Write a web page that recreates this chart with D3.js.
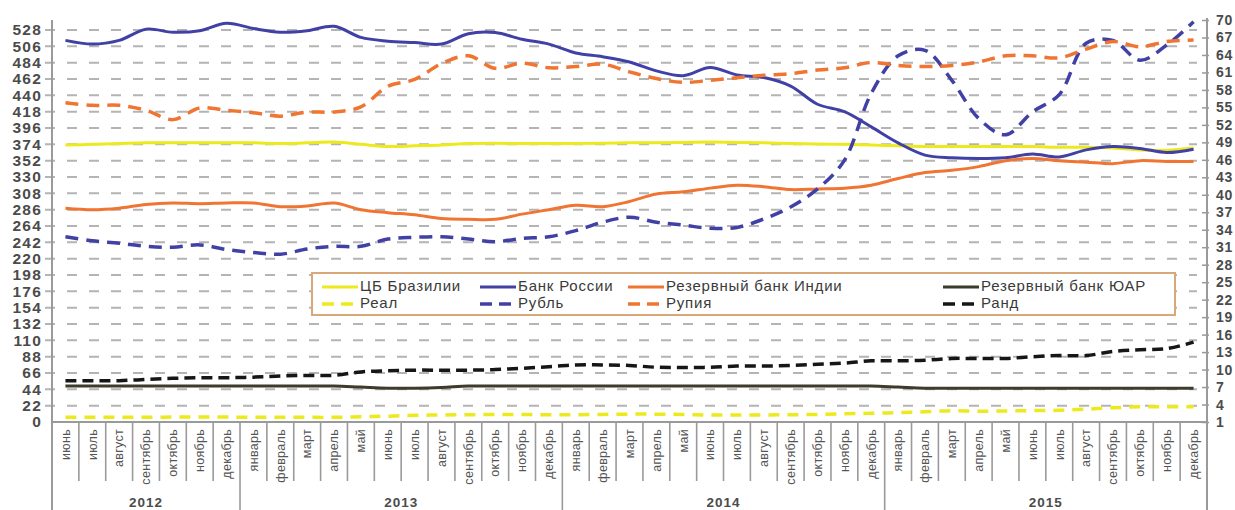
<!DOCTYPE html>
<html>
<head>
<meta charset="utf-8">
<script src="https://cdn.jsdelivr.net/npm/d3@7"></script>
<style>
  html, body { margin: 0; padding: 0; background: #fff; }
  svg { display: block; font-family: "Liberation Sans", Arial, sans-serif; }
</style>
</head>
<body>
<svg id="chart" width="1235" height="510"></svg>
<script>
// Months from June 2012 to December 2015
const monthLabels = [
  "июнь","июль","август","сентябрь","октябрь","ноябрь","декабрь",
  "январь","февраль","март","апрель","май","июнь","июль","август","сентябрь","октябрь","ноябрь","декабрь",
  "январь","февраль","март","апрель","май","июнь","июль","август","сентябрь","октябрь","ноябрь","декабрь",
  "январь","февраль","март","апрель","май","июнь","июль","август","сентябрь","октябрь","ноябрь","декабрь"
];
const yearLabels = ["2012", "2013", "2014", "2015"];
const monthsPerYear = [7, 12, 12, 12];

const leftTicks = [0, 22, 44, 66, 88, 110, 132, 154, 176, 198, 220, 242, 264, 286, 308, 330, 352, 374, 396, 418, 440, 462, 484, 506, 528];
const rightTicks = [1, 4, 7, 10, 13, 16, 19, 22, 25, 28, 31, 34, 37, 40, 43, 46, 49, 52, 55, 58, 61, 64, 67, 70];

const seriesNames = ["ЦБ Бразилии", "Банк России", "Резервный банк Индии", "Резервный банк ЮАР", "Реал", "Рубль", "Рупия", "Ранд"];

// Reserves, left axis
const brazilBank = [373, 374, 375, 376, 376, 376, 376, 376, 375, 376, 377, 374, 371, 372, 373, 375, 375.5, 375, 375, 375, 375.5, 376, 376, 376.5, 377, 376.5, 376, 375, 374.5, 374, 373, 372, 371, 371, 371, 371, 371, 370, 370, 369, 366.5, 366, 369];
const russiaBank = [514, 509, 514, 529, 525, 527, 537, 530, 525, 527, 533, 518, 513, 511, 509, 523, 524.5, 515.5, 509, 497, 492, 485, 473, 466.5, 477.5, 467.5, 464, 452.5, 428, 418, 397.5, 376, 359.5, 356, 355, 356, 361, 357, 366.5, 371, 368.5, 363, 367.5];
const indiaBank = [288, 286, 288, 293, 295, 294, 295, 295, 290, 291, 295, 286, 282, 279, 274, 273, 273, 280, 286, 292, 290, 297, 307, 310, 315, 319, 317, 313, 314, 315, 319, 328, 336, 339, 344, 352, 355, 352, 350, 348, 352, 351, 351];
const safricaBank = [48.5, 48.5, 48.5, 48.5, 48.5, 48.5, 48.5, 48.5, 48.5, 48.5, 48.5, 47, 45.5, 45.5, 46.5, 48.5, 48.5, 48.5, 48.5, 48.5, 48.5, 48.5, 48.5, 48.5, 48.5, 48.5, 48.5, 48.5, 48.5, 48.5, 48.5, 47, 45.5, 45.5, 45.5, 45.5, 45.5, 45.5, 45.5, 45.5, 45.5, 45.5, 45.5];

// Exchange rates to USD, right axis
const real = [1.8, 1.8, 1.8, 1.8, 1.85, 1.85, 1.85, 1.8, 1.8, 1.8, 1.8, 1.9, 2.0, 2.15, 2.2, 2.25, 2.3, 2.3, 2.25, 2.25, 2.3, 2.35, 2.35, 2.3, 2.2, 2.2, 2.2, 2.25, 2.3, 2.4, 2.5, 2.6, 2.75, 2.95, 2.85, 2.9, 2.95, 3.0, 3.2, 3.45, 3.6, 3.6, 3.6];
const ruble = [32.8, 32.1, 31.7, 31.15, 31.0, 31.4, 30.6, 30.1, 29.8, 30.7, 31.15, 31.15, 32.4, 32.7, 32.8, 32.4, 31.95, 32.5, 32.8, 33.85, 35.3, 36.15, 35.3, 34.8, 34.25, 34.4, 35.85, 37.9, 41, 45.9, 57.4, 63.85, 64.8, 59.65, 53.1, 50.3, 54.2, 57.2, 66, 66.5, 63.1, 65.7, 69.7];
const rupee = [55.8, 55.35, 55.35, 54.5, 52.9, 54.9, 54.5, 54.1, 53.5, 54.2, 54.2, 55.1, 58.6, 59.8, 62.5, 63.85, 61.7, 62.6, 61.8, 62, 62.4, 61.1, 59.95, 59.3, 59.65, 60.1, 60.5, 60.8, 61.4, 61.8, 62.7, 62.2, 62, 62.2, 62.8, 63.85, 63.85, 63.5, 65, 66.3, 65.4, 66.3, 66.55];
const rand = [8.1, 8.1, 8.1, 8.3, 8.5, 8.6, 8.6, 8.7, 8.9, 9.0, 9.0, 9.6, 9.8, 9.9, 9.9, 9.9, 10.0, 10.2, 10.5, 10.8, 10.8, 10.7, 10.4, 10.35, 10.4, 10.6, 10.6, 10.7, 10.9, 11.1, 11.5, 11.5, 11.6, 11.9, 11.9, 11.9, 12.2, 12.4, 12.4, 13.1, 13.4, 13.6, 14.7];

const svg = d3.select("#chart");
svg.append("rect").attr("width", 1235).attr("height", 510).attr("fill", "#fff");

const plotLeft = 52, plotRight = 1207, plotTop = 20, plotBottom = 422;

const x = d3.scaleBand().domain(d3.range(monthLabels.length)).range([plotLeft, plotRight]).padding(0);
const cx = i => x(i) + x.bandwidth() / 2;
const yL = d3.scaleLinear().domain([0, 528]).range([plotBottom, 30]);
const yR = d3.scaleLinear().domain([1, 70]).range([plotBottom, plotTop]);

const gridColor = "#b4b4b4";
const axisColor = "#9a9a9a";
const labelColor = "#4b4b4b";

// Horizontal dashed gridlines at the left-axis ticks
svg.append("g").selectAll("line").data(leftTicks.filter(t => t > 0)).join("line")
  .attr("x1", plotLeft - 7).attr("x2", plotRight - 10)
  .attr("y1", d => yL(d)).attr("y2", d => yL(d))
  .attr("stroke", gridColor).attr("stroke-width", 2)
  .attr("stroke-dasharray", "10,12");

// Left axis
const gLeft = svg.append("g").attr("transform", `translate(${plotLeft},0)`)
  .call(d3.axisLeft(yL).tickValues(leftTicks).tickSize(0).tickPadding(10));
gLeft.select(".domain").remove();
gLeft.selectAll("text")
  .attr("fill", labelColor).attr("font-size", 15.5).attr("font-weight", "bold")
  .attr("letter-spacing", "1.2px").attr("font-family", "Liberation Sans, Arial, sans-serif");
svg.append("line").attr("x1", plotLeft).attr("x2", plotLeft).attr("y1", plotTop).attr("y2", 510)
  .attr("stroke", axisColor).attr("stroke-width", 2);

// Right axis
const gRight = svg.append("g").attr("transform", `translate(${plotRight},0)`)
  .call(d3.axisRight(yR).tickValues(rightTicks).tickSize(3).tickPadding(6));
gRight.select(".domain").remove();
gRight.selectAll(".tick line").attr("x1", -5).attr("x2", 2).attr("stroke", axisColor).attr("stroke-width", 1.5);
gRight.selectAll("text")
  .attr("fill", labelColor).attr("font-size", 14).attr("font-weight", "bold")
  .attr("letter-spacing", "0.8px").attr("font-family", "Liberation Sans, Arial, sans-serif");
svg.append("line").attr("x1", plotRight).attr("x2", plotRight).attr("y1", plotTop - 2).attr("y2", 510)
  .attr("stroke", axisColor).attr("stroke-width", 2);

// Bottom axis with month and year separators
svg.append("line").attr("x1", plotLeft).attr("x2", plotRight).attr("y1", plotBottom).attr("y2", plotBottom)
  .attr("stroke", axisColor).attr("stroke-width", 2);
const yearStarts = [];
monthsPerYear.reduce((acc, n) => { yearStarts.push(acc); return acc + n; }, 0);
svg.append("g").selectAll("line").data(d3.range(1, monthLabels.length)).join("line")
  .attr("x1", d => x(d)).attr("x2", d => x(d))
  .attr("y1", plotBottom).attr("y2", d => yearStarts.includes(d) ? 510 : 481)
  .attr("stroke", axisColor).attr("stroke-width", 1.6);

svg.append("g").selectAll("text").data(monthLabels).join("text")
  .attr("transform", (d, i) => `translate(${cx(i) + 1},${plotBottom + 7}) rotate(-90)`)
  .attr("text-anchor", "end").attr("dominant-baseline", "middle")
  .attr("font-size", 12.5).attr("fill", "#555").attr("letter-spacing", "0.3px")
  .text(d => d);

svg.append("g").selectAll("text").data(yearLabels).join("text")
  .attr("x", (d, i) => {
    const s = yearStarts[i], e = s + monthsPerYear[i];
    return (x(s) + x(e - 1) + x.bandwidth()) / 2;
  })
  .attr("y", 507)
  .attr("text-anchor", "middle").attr("font-size", 13.5).attr("font-weight", "bold")
  .attr("fill", labelColor).attr("letter-spacing", "1px")
  .text(d => d);

// Legend box
const legend = svg.append("g");
legend.append("rect").attr("x", 312).attr("y", 273).attr("width", 863).attr("height", 42)
  .attr("fill", "#fff").attr("stroke", "#d8a878").attr("stroke-width", 2);

// Series styles
const colors = {
  brazil: "#ecea1e",
  russia: "#4141a5",
  india: "#f07533",
  safrica: "#3d3b2a",
  rand: "#161616"
};
const series = [
  { name: seriesNames[0], values: brazilBank, axis: yL, color: colors.brazil, dash: null, width: 3 },
  { name: seriesNames[1], values: russiaBank, axis: yL, color: colors.russia, dash: null, width: 3 },
  { name: seriesNames[2], values: indiaBank, axis: yL, color: colors.india, dash: null, width: 3 },
  { name: seriesNames[3], values: safricaBank, axis: yL, color: colors.safrica, dash: null, width: 3 },
  { name: seriesNames[4], values: real, axis: yR, color: colors.brazil, dash: "11,8", width: 3.5 },
  { name: seriesNames[5], values: ruble, axis: yR, color: colors.russia, dash: "13,8", width: 3.5 },
  { name: seriesNames[6], values: rupee, axis: yR, color: colors.india, dash: "13,8", width: 3.5 },
  { name: seriesNames[7], values: rand, axis: yR, color: colors.rand, dash: "11,6", width: 3.5 }
];

const lineGroup = svg.append("g");
series.forEach(s => {
  const line = d3.line()
    .x((d, i) => cx(i))
    .y(d => s.axis(d))
    .curve(d3.curveCatmullRom.alpha(0.5));
  lineGroup.append("path")
    .datum(s.values)
    .attr("d", line)
    .attr("fill", "none")
    .attr("stroke", s.color)
    .attr("stroke-width", s.width)
    .attr("stroke-linejoin", "round")
    .attr("stroke-dasharray", s.dash);
});

// Legend entries: four columns, solid row above dashed row
const colX = [322, 480, 628, 943];
const rowY = [287, 304];
series.forEach((s, k) => {
  const col = k % 4, row = Math.floor(k / 4);
  const lx = colX[col], ly = rowY[row];
  legend.append("line")
    .attr("x1", lx).attr("x2", lx + 36).attr("y1", ly).attr("y2", ly)
    .attr("stroke", s.color).attr("stroke-width", row === 0 ? 3 : 3.5)
    .attr("stroke-dasharray", row === 0 ? null : "12,7");
  legend.append("text")
    .attr("x", lx + 38).attr("y", ly).attr("dominant-baseline", "middle")
    .attr("font-size", 15).attr("fill", "#3a3a3a").attr("letter-spacing", "0.8px")
    .text(s.name);
});
</script>
</body>
</html>
